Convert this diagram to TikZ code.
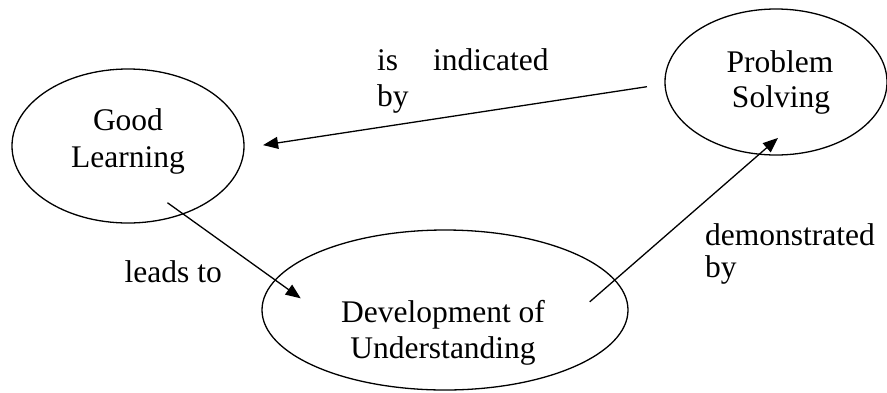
\documentclass[tikz,border=0pt]{standalone}
\usepackage{fontspec}
\setmainfont{Liberation Serif}
\usetikzlibrary{arrows.meta,shapes.geometric}
\begin{document}
\begin{tikzpicture}[x=1pt,y=-1pt,
  bubble/.style={draw, line width=1.3pt, ellipse, inner sep=0pt, outer sep=0pt},
  txt/.style={font=\fontsize{31.5}{36}\selectfont, inner sep=0pt, anchor=base},
  lbl/.style={font=\fontsize{31.5}{36}\selectfont, inner sep=0pt, anchor=base west},
  link/.style={line width=1.3pt, -{Triangle[length=15pt,width=12pt]}}]
\useasboundingbox (0,0) rectangle (887,392);
% ellipses
\node[bubble, minimum width=232pt, minimum height=154pt] (GL) at (128,146) {};
\node[bubble, minimum width=222pt, minimum height=146pt] (PS) at (776,82) {};
\node[bubble, minimum width=366pt, minimum height=160pt] (DU) at (445,310) {};
% ellipse texts
\node[txt] (gl1) at (128,130) {Good};
\node[txt] (gl2) at (128,167) {Learning};
\node[txt] (ps1) at (780,72) {Problem};
\node[txt] (ps2) at (781,107) {Solving};
\node[txt] (du1) at (443,322) {Development of};
\node[txt] (du2) at (443,358) {Understanding};
% connector labels
\node[lbl] (l1a) at (377,70) {is\hspace{35pt}indicated};
\node[lbl] (l1b) at (377,106) {by};
\node[txt, anchor=base east] (l2) at (222,282) {leads to};
\node[lbl] (l3a) at (705,245) {demonstrated};
\node[lbl] (l3b) at (705,277) {by};
% connectors
\draw[link, shorten <=18.3pt, shorten >=19.35pt] (PS.181.65) -- (GL.-1.93);
\draw[link, shorten <=-19pt, shorten >=-31.3pt] (GL.-51.4) -- (DU.170.2);
\draw[link, shorten <=-33.1pt, shorten >=-24.7pt] (DU.10.6) -- (PS.-103.8);
\end{tikzpicture}
\end{document}
